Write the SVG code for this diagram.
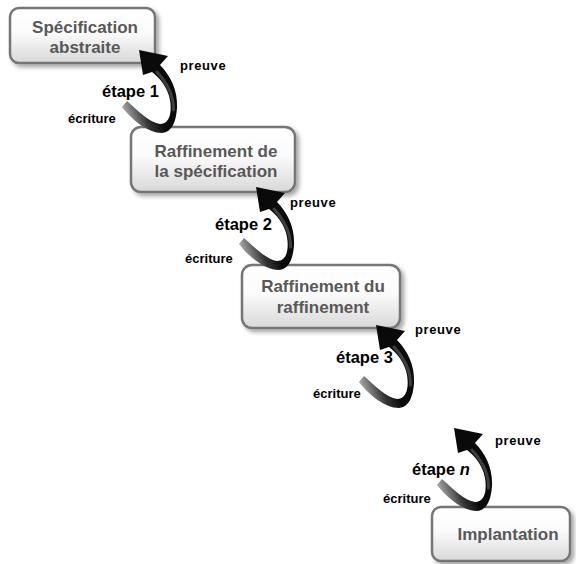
<svg xmlns="http://www.w3.org/2000/svg" width="576" height="564" viewBox="0 0 576 564">
  <defs>
    <linearGradient id="boxFill" x1="0" y1="0" x2="0" y2="1">
      <stop offset="0" stop-color="#ffffff"/>
      <stop offset="0.45" stop-color="#fbfbfb"/>
      <stop offset="1" stop-color="#d8d8d8"/>
    </linearGradient>
    <linearGradient id="ribbonFill" gradientUnits="userSpaceOnUse" x1="120" y1="106" x2="152" y2="94">
      <stop offset="0" stop-color="#b4b4b4"/>
      <stop offset="0.6" stop-color="#333333"/>
      <stop offset="1" stop-color="#0a0a0a"/>
    </linearGradient>
    <filter id="shadow" x="-10%" y="-10%" width="130%" height="140%">
      <feDropShadow dx="3" dy="3" stdDeviation="2" flood-color="#000" flood-opacity="0.35"/>
    </filter>
    <!-- curled step arrow, tip at top-left, tail curling under -->
    <g id="curl">
      <path fill="url(#ribbonFill)"
            d="M 122,107 L 127,101 C 137,110 150,123 160,124 C 170,124 172,112 170,100 C 168,88 160,78 152,72 L 143,75 L 139,50 L 168,56 L 160,65 C 170,75 178,90 177,108 C 176,122 172,132 162,133 C 148,133 132,120 122,107 Z"/>
      <!-- soft sheen on the rising part of the ribbon -->
      <path d="M 157,72 C 166,82 174,95 173.5,110" fill="none" stroke="#ffffff" stroke-opacity="0.22" stroke-width="3" stroke-linecap="round"/>
    </g>
  </defs>
  <style>
    .box { fill: url(#boxFill); stroke: #767676; stroke-width: 2.5; filter: url(#shadow); }
    .title { font-family: "Liberation Sans", Arial, sans-serif; font-weight: bold; font-size: 17px; fill: #585858; text-anchor: middle; }
    .step { font-family: "Liberation Sans", Arial, sans-serif; font-weight: bold; font-size: 16.5px; fill: #000000; }
    .lbl { font-family: "Liberation Sans", Arial, sans-serif; font-weight: bold; font-size: 13px; fill: #000000; }
    .pr { letter-spacing: 0.6px; }
  </style>

  <rect width="576" height="564" fill="#ffffff"/>

  <g id="spec-abstraite">
    <rect class="box" x="10" y="8" width="145" height="55" rx="9"/>
    <text class="title" x="85" y="33">Spécification</text>
    <text class="title" x="85" y="53">abstraite</text>
  </g>

  <g id="raffinement-spec">
    <rect class="box" x="131" y="127" width="164" height="65" rx="10"/>
    <text class="title" x="216" y="157">Raffinement de</text>
    <text class="title" x="216" y="177">la spécification</text>
  </g>

  <g id="raffinement-raffinement">
    <rect class="box" x="242" y="265" width="158" height="63" rx="10"/>
    <text class="title" x="323" y="292">Raffinement du</text>
    <text class="title" x="323" y="313">raffinement</text>
  </g>

  <g id="implantation">
    <rect class="box" x="432" y="507" width="138" height="54" rx="9"/>
    <text class="title" x="508" y="540">Implantation</text>
  </g>

  <!-- step arrows, drawn over the boxes they touch -->
  <g id="connectors">
    <use href="#curl"/>
    <use href="#curl" transform="translate(117,137)"/>
    <use href="#curl" transform="translate(237,275)"/>
    <use href="#curl" transform="translate(315,378)"/>
    <text class="lbl pr" x="180" y="70">preuve</text>
    <text class="step" x="102" y="97">étape 1</text>
    <text class="lbl" x="68" y="123">écriture</text>
    <text class="lbl pr" x="290" y="207">preuve</text>
    <text class="step" x="215" y="230">étape 2</text>
    <text class="lbl" x="185" y="263">écriture</text>
    <text class="lbl pr" x="415" y="334">preuve</text>
    <text class="step" x="336" y="363">étape 3</text>
    <text class="lbl" x="313" y="398">écriture</text>
    <text class="lbl pr" x="495" y="445">preuve</text>
    <text class="step" x="412" y="475">étape <tspan font-style="italic">n</tspan></text>
    <text class="lbl" x="383" y="503">écriture</text>
  </g>
</svg>
